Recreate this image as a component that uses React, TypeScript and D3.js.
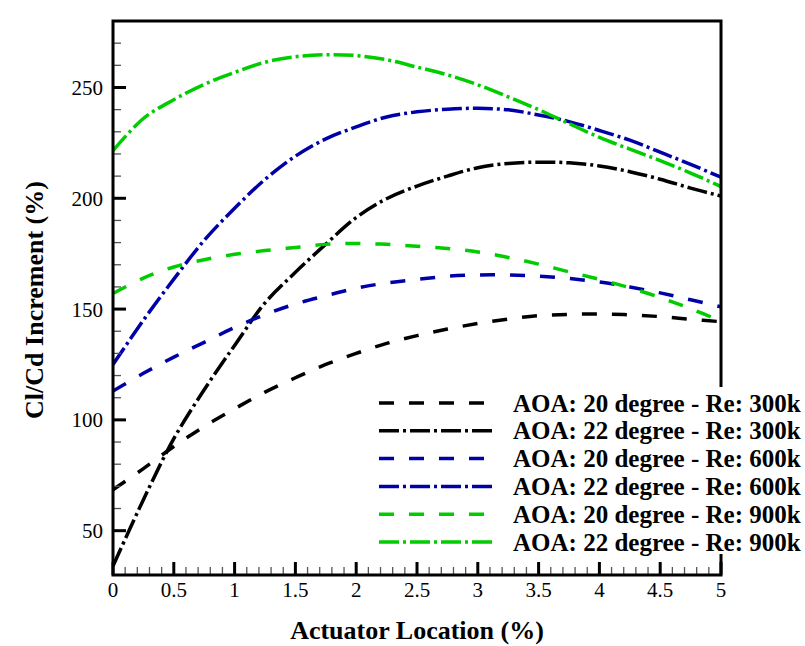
import React from "react";
import * as d3 from "d3";

// Actuator location (% chord)
const locations = [0, 0.25, 0.5, 0.75, 1, 1.25, 1.5, 1.75, 2, 2.25, 2.5, 2.75, 3, 3.25, 3.5, 3.75, 4, 4.25, 4.5, 4.75, 5];

// Cl/Cd increment (%) for each case
const aoa20Re300 = [68.5, 78, 88, 97, 105, 112.5, 119, 125, 130, 134.5, 138, 141, 143.5, 145.5, 147, 147.6, 147.8, 147.4, 146.6, 145.4, 144.3];
const aoa22Re300 = [34, 64, 91.5, 113.6, 133.6, 152.8, 166.6, 179.3, 191.3, 199.8, 205.5, 210, 213.8, 215.7, 216.3, 216, 214.6, 212, 208.6, 204.6, 201];
const aoa20Re600 = [113, 121, 128.3, 135, 141.7, 147.5, 152.3, 156, 159.4, 161.8, 163.4, 164.8, 165.4, 165.4, 164.9, 163.8, 162.2, 160, 157.3, 154.2, 151];
const aoa22Re600 = [125, 145, 163.5, 181, 195.5, 208.5, 219, 226.8, 232.2, 236.7, 239, 240.2, 240.6, 239.9, 237.6, 234.6, 230.6, 226.2, 220.8, 215.3, 209.5];
const aoa20Re900 = [157, 164, 169, 172.3, 174.7, 176.4, 177.8, 179.2, 179.6, 179.2, 178.3, 177.3, 175.8, 173.3, 170.3, 166.8, 163.4, 159.6, 155.2, 150.2, 144.5];
const aoa22Re900 = [221.5, 236, 244.5, 251.4, 256.8, 261.4, 263.9, 264.8, 264.4, 262.5, 259.2, 255.7, 251.2, 245.8, 240, 233.7, 227.5, 222.2, 217, 211.4, 205.3];

const seriesNames = [
  "AOA: 20 degree - Re: 300k",
  "AOA: 22 degree - Re: 300k",
  "AOA: 20 degree - Re: 600k",
  "AOA: 22 degree - Re: 600k",
  "AOA: 20 degree - Re: 900k",
  "AOA: 22 degree - Re: 900k",
];
const seriesValues = [aoa20Re300, aoa22Re300, aoa20Re600, aoa22Re600, aoa20Re900, aoa22Re900];
const seriesColors = ["#000000", "#000000", "#0000a8", "#0000a8", "#00cc00", "#00cc00"];
const seriesKinds = ["dash", "dashdot", "dash", "dashdot", "dash", "dashdot"];

const xTicks = [0, 0.5, 1, 1.5, 2, 2.5, 3, 3.5, 4, 4.5, 5];
const yTicks = [50, 100, 150, 200, 250];

const W = 805;
const H = 646;
const left = 113;
const right = 721;
const top = 21;
const bottom = 575;

const serif = "'Liberation Serif', 'Times New Roman', serif";
const dashPattern: Record<string, string> = { dash: "15 15", dashdot: "20 4 3 4" };

export default function App() {
  const x = d3.scaleLinear().domain([0, 5]).range([left, right]);
  const y = d3.scaleLinear().domain([30, 280]).range([bottom, top]);

  const line = d3
    .line<number>()
    .x((_, i) => x(locations[i]))
    .y((v) => y(v))
    .curve(d3.curveCatmullRom.alpha(0.5));

  const xMinor = d3.range(0, 5.001, 0.1).filter((v) => Math.abs(v * 2 - Math.round(v * 2)) > 1e-6);
  const yMinor = d3.range(50, 280, 10).filter((v) => v % 50 !== 0);

  const legendX0 = 379;
  const legendX1 = 494;
  const legendY0 = 403;
  const legendStep = 27.8;

  return (
    <svg
      width={W}
      height={H}
      style={{ position: "absolute", left: 0, top: 0, background: "#fff" }}
      fontFamily={serif}
    >
      <defs>
        <clipPath id="plotClip">
          <rect x={left} y={top} width={right - left} height={bottom - top} />
        </clipPath>
      </defs>

      {/* curves */}
      <g clipPath="url(#plotClip)">
        {seriesValues.map((vals, i) => (
          <path
            key={i}
            d={line(vals) || ""}
            fill="none"
            stroke={seriesColors[i]}
            strokeWidth={3.5}
            strokeDasharray={dashPattern[seriesKinds[i]]}
          />
        ))}
      </g>

      {/* minor ticks */}
      {xMinor.map((v) => (
        <line key={"xm" + v} x1={x(v)} x2={x(v)} y1={bottom} y2={bottom - 8} stroke="#555" strokeWidth={1.3} />
      ))}
      {yMinor.map((v) => (
        <line key={"ym" + v} x1={left} x2={left + 8} y1={y(v)} y2={y(v)} stroke="#555" strokeWidth={1.3} />
      ))}
      {/* major ticks */}
      {xTicks.map((v) => (
        <line key={"xM" + v} x1={x(v)} x2={x(v)} y1={bottom} y2={bottom - 13} stroke="#000" strokeWidth={3} />
      ))}
      {yTicks.map((v) => (
        <line key={"yM" + v} x1={left} x2={left + 13} y1={y(v)} y2={y(v)} stroke="#000" strokeWidth={3} />
      ))}

      {/* frame */}
      <rect x={left} y={top} width={right - left} height={bottom - top} fill="none" stroke="#000" strokeWidth={3} />

      {/* tick labels */}
      {xTicks.map((v) => (
        <text key={"xl" + v} x={x(v)} y={597} textAnchor="middle" fontSize={21} fill="#000">
          {d3.format("~g")(v)}
        </text>
      ))}
      {yTicks.map((v) => (
        <text key={"yl" + v} x={103} y={y(v) + 7.5} textAnchor="end" fontSize={21} fill="#000">
          {v}
        </text>
      ))}

      {/* axis titles */}
      <text x={(left + right) / 2} y={639} textAnchor="middle" fontSize={26} fontWeight="bold" fill="#000">
        Actuator Location (%)
      </text>
      <text
        transform={`translate(43, ${(top + bottom) / 2 + 2}) rotate(-90)`}
        textAnchor="middle"
        fontSize={26}
        fontWeight="bold"
        fill="#000"
      >
        Cl/Cd Increment (%)
      </text>

      {/* legend, on an opaque box over the frame */}
      <rect x={372} y={387} width={W - 372} height={167} fill="#fff" />
      {seriesNames.map((name, i) => {
        const ly = legendY0 + i * legendStep;
        return (
          <g key={"lg" + i}>
            <line
              x1={legendX0}
              x2={legendX1}
              y1={ly}
              y2={ly}
              stroke={seriesColors[i]}
              strokeWidth={3.5}
              strokeDasharray={dashPattern[seriesKinds[i]]}
            />
            <text x={513} y={ly + 8.5} fontSize={25} fontWeight="bold" fill="#000">
              {name}
            </text>
          </g>
        );
      })}
    </svg>
  );
}
